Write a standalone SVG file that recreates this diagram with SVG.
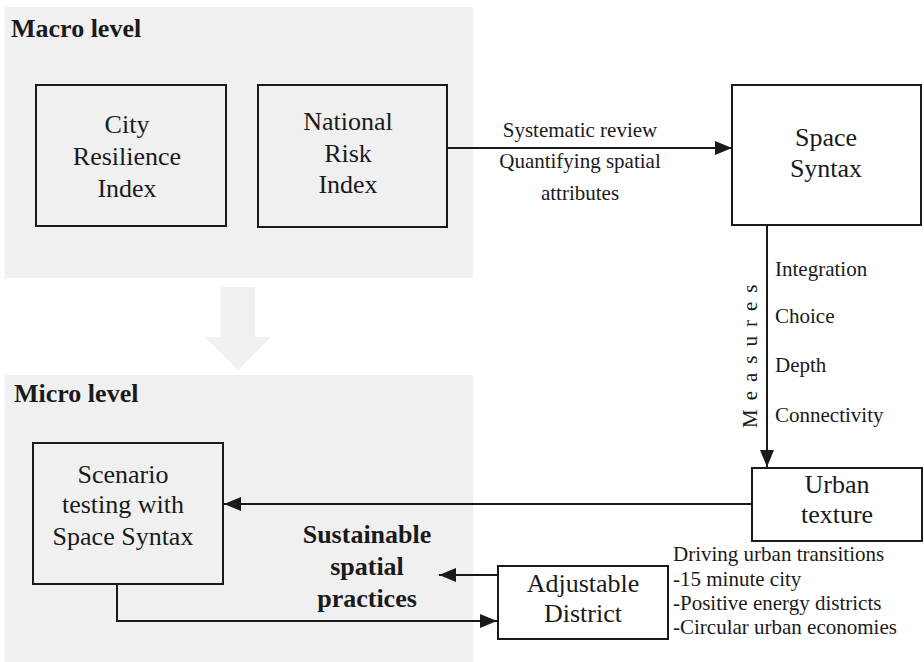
<svg xmlns="http://www.w3.org/2000/svg" width="924" height="662" viewBox="0 0 924 662">
<defs>
<style>
.panel{fill:#f0f0f0}
.box{fill:none;stroke:#1a1a1a;stroke-width:2}
.wbox{fill:#fff;stroke:#1a1a1a;stroke-width:2}
.t{font-family:"Liberation Serif","Times New Roman",serif;font-size:26px;fill:#1a1a1a;text-anchor:middle}
.b{font-family:"Liberation Serif","Times New Roman",serif;font-size:26px;font-weight:bold;fill:#1a1a1a}
.s{font-family:"Liberation Serif","Times New Roman",serif;font-size:21px;fill:#1a1a1a}
.ln{fill:none;stroke:#1a1a1a;stroke-width:2}
</style>
<marker id="ah" viewBox="0 0 17 14" refX="17" refY="7" markerWidth="17" markerHeight="14" markerUnits="userSpaceOnUse" orient="auto">
<path d="M0,0 L17,7 L0,14 z" fill="#1a1a1a"/>
</marker>
</defs>
<rect width="924" height="662" fill="#fff"/>
<g id="macro-panel">
<rect class="panel" x="5" y="7" width="468" height="271"/>
<text class="b" x="11" y="37">Macro level</text>
</g>
<g id="micro-panel">
<rect class="panel" x="5" y="375" width="468" height="287"/>
<text class="b" x="14" y="402">Micro level</text>
</g>
<g id="transition-arrow">
<path d="M221,287 L255,287 L255,337 L271,337 L238,370 L205,337 L221,337 z" fill="#f0f0f0"/>
</g>
<g id="city-resilience-index">
<rect class="box" x="36" y="85" width="190" height="141"/>
<text class="t" x="127" y="133">City</text>
<text class="t" x="127" y="165">Resilience</text>
<text class="t" x="127" y="197">Index</text>
</g>
<g id="national-risk-index">
<rect class="box" x="258" y="85" width="189" height="142"/>
<text class="t" x="348" y="130">National</text>
<text class="t" x="348" y="162">Risk</text>
<text class="t" x="348" y="193">Index</text>
</g>
<g id="space-syntax">
<rect class="wbox" x="732" y="85" width="189" height="140"/>
<text class="t" x="826" y="146">Space</text>
<text class="t" x="826" y="177">Syntax</text>
</g>
<g id="urban-texture">
<rect class="wbox" x="752" y="468" width="170" height="73"/>
<text class="t" x="837" y="493">Urban</text>
<text class="t" x="837" y="523">texture</text>
</g>
<g id="scenario-testing">
<rect class="box" x="33" y="443" width="190" height="141"/>
<text class="t" x="123" y="483">Scenario</text>
<text class="t" x="123" y="513">testing with</text>
<text class="t" x="123" y="545">Space Syntax</text>
</g>
<g id="sustainable-spatial-practices">
<text class="b" x="367" y="543" text-anchor="middle">Sustainable</text>
<text class="b" x="367" y="575" text-anchor="middle">spatial</text>
<text class="b" x="367" y="607" text-anchor="middle">practices</text>
</g>
<g id="adjustable-district">
<rect class="wbox" x="498" y="566" width="170" height="73"/>
<text class="t" x="583" y="592">Adjustable</text>
<text class="t" x="583" y="622">District</text>
</g>
<g id="connectors">
<line class="ln" x1="447" y1="148" x2="732" y2="148" marker-end="url(#ah)"/>
<line class="ln" x1="767" y1="225" x2="767" y2="467" marker-end="url(#ah)"/>
<line class="ln" x1="752" y1="504" x2="224" y2="504" marker-end="url(#ah)"/>
<line class="ln" x1="498" y1="575" x2="439" y2="575" marker-end="url(#ah)"/>
<polyline class="ln" points="117,584 117,621 497,621" marker-end="url(#ah)"/>
</g>
<g id="labels">
<text class="s" x="580" y="137" text-anchor="middle">Systematic review</text>
<text class="s" x="580" y="168" text-anchor="middle">Quantifying spatial</text>
<text class="s" x="580" y="200" text-anchor="middle">attributes</text>
<text class="s" transform="translate(757,428) rotate(-90)" letter-spacing="9">Measures</text>
<text class="s" x="775" y="276">Integration</text>
<text class="s" x="775" y="323">Choice</text>
<text class="s" x="775" y="372">Depth</text>
<text class="s" x="775" y="422">Connectivity</text>
<text class="s" x="673" y="561">Driving urban transitions</text>
<text class="s" x="673" y="586">-15 minute city</text>
<text class="s" x="673" y="610">-Positive energy districts</text>
<text class="s" x="673" y="634">-Circular urban economies</text>
</g>
</svg>
